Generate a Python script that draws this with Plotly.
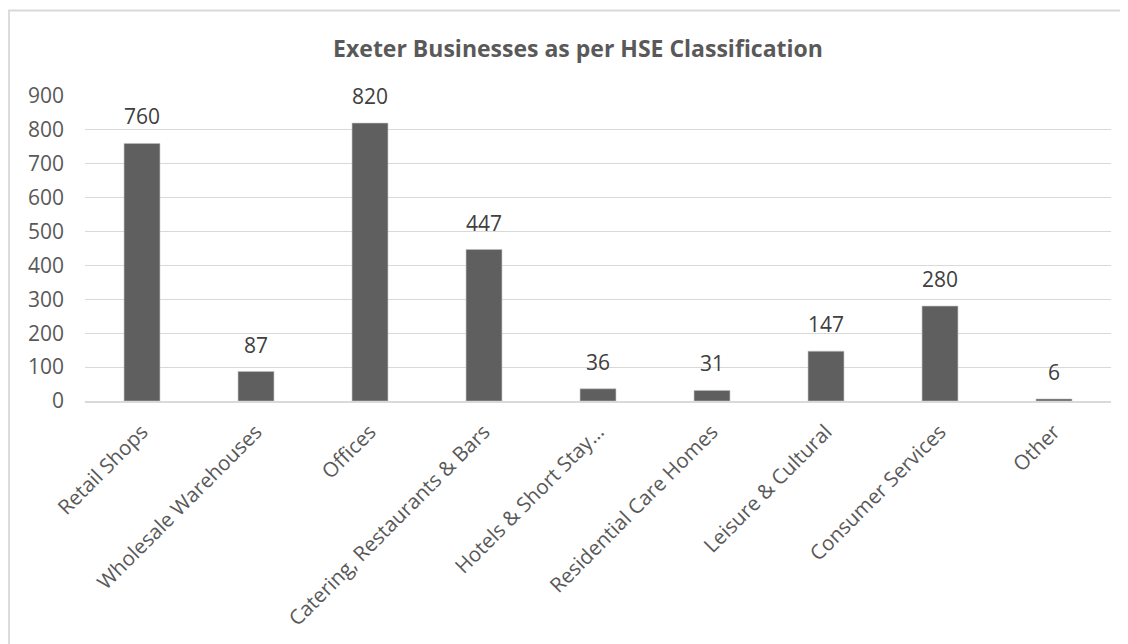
import plotly.graph_objects as go

categories = ["Retail Shops", "Wholesale Warehouses", "Offices", "Catering, Restaurants & Bars",
              "Hotels & Short Stay…", "Residential Care Homes", "Leisure & Cultural",
              "Consumer Services", "Other"]
values = [760, 87, 820, 447, 36, 31, 147, 280, 6]
y_ticks = [0, 100, 200, 300, 400, 500, 600, 700, 800, 900]

# page has an 8px body margin, so figure coords = target coords - 8
W, H = 1120, 636
L, R, T = 77, 17, 88
plot_bottom = 393
B = H - plot_bottom
pw, ph = W - L - R, plot_bottom - T

fig = go.Figure(go.Bar(
    x=categories, y=values,
    marker=dict(color="#5f5f5f", line=dict(color="#bfbfbf", width=0.6)),
    hoverinfo="x+y",
))

for c, v in zip(categories, values):
    fig.add_annotation(x=c, y=v, text=str(v), showarrow=False,
                       yanchor="bottom", yshift=11,
                       font=dict(family="Open Sans", size=21, color="#404040"))

fig.update_layout(
    width=W, height=H,
    margin=dict(l=L, r=R, t=T, b=B, autoexpand=False),
    paper_bgcolor="white", plot_bgcolor="white",
    bargap=0.685,
    showlegend=False,
    title=dict(text="<b>Exeter Businesses as per HSE Classification</b>",
               x=570 / W, xanchor="center", y=1 - 41 / H, yanchor="middle",
               font=dict(family="Open Sans", size=23, color="#595959")),
    xaxis=dict(tickangle=-45, tickfont=dict(family="Open Sans", size=20.5, color="#595959"),
               showline=True, linecolor="#d9d9d9", linewidth=1.5, ticks="", showgrid=False,
               ticklabelstandoff=9, fixedrange=True, automargin=False),
    yaxis=dict(range=[0, 900], tickvals=y_ticks, showgrid=True, gridcolor="#d9d9d9",
               gridwidth=1, zeroline=False, showline=False, ticks="",
               tickfont=dict(family="Open Sans", size=21, color="#595959"),
               ticklabelstandoff=20, fixedrange=True, automargin=False),
    shapes=[dict(type="rect", xref="paper", yref="paper",
                 x0=(1 - L) / pw, x1=(W + 20 - L) / pw,
                 y0=(plot_bottom - (H + 20)) / ph, y1=(plot_bottom - 2.5) / ph,
                 line=dict(color="#d9d9d9", width=1.8), fillcolor="rgba(0,0,0,0)", layer="below")],
)

fig.write_html("out.html")
